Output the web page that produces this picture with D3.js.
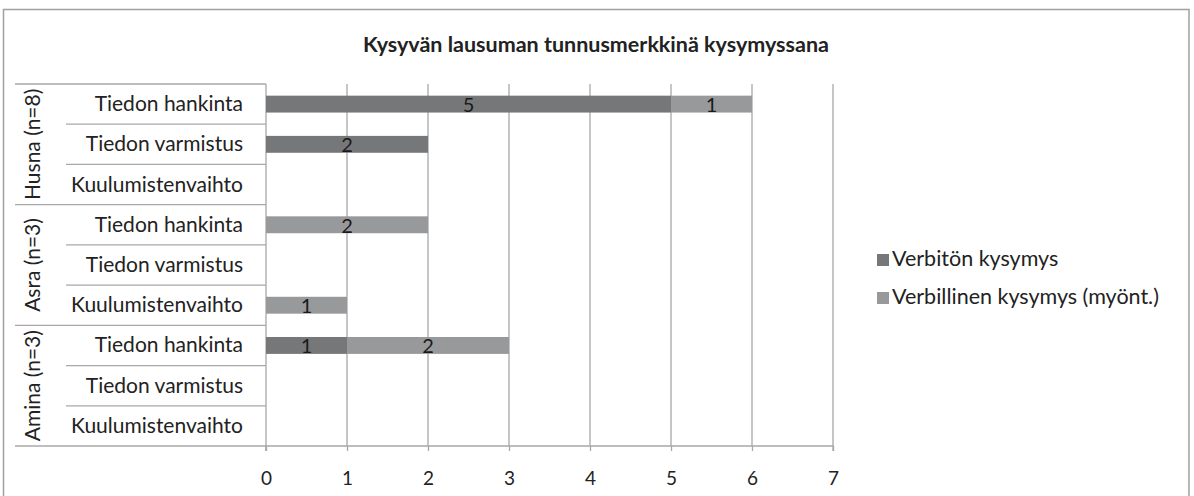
<!DOCTYPE html>
<html><head><meta charset="utf-8">
<script src="https://cdn.jsdelivr.net/npm/d3@7"></script>
<style>
body{margin:0;background:#fff;}
svg text{font-family:Lato,"Open Sans",sans-serif;fill:#222;}
</style></head>
<body><svg id="c" width="1194" height="496"></svg>
<script>
const title = "Kysyvän lausuman tunnusmerkkinä kysymyssana";
const groups = ["Husna (n=8)", "Asra (n=3)", "Amina (n=3)"];
const subcats = ["Tiedon hankinta", "Tiedon varmistus", "Kuulumistenvaihto"];
const seriesNames = ["Verbitön kysymys", "Verbillinen kysymys (myönt.)"];
const verbiton =   [5, 2, 0, 0, 0, 0, 1, 0, 0];
const verbillinen = [1, 0, 0, 2, 0, 1, 2, 0, 0];
const xTicks = [0, 1, 2, 3, 4, 5, 6, 7];
const colors = ["#767779", "#98999b"];

const svg = d3.select("#c");
const gridColor = "#a8a8a8";
const L = 266, R = 833, T = 84, B = 446;

svg.append("rect").attr("x", 3.5).attr("y", 9.5).attr("width", 1185.5).attr("height", 500)
  .attr("fill", "none").attr("stroke", "#a0a0a0").attr("stroke-width", 1.5);

svg.append("text").attr("x", 596).attr("y", 52).attr("text-anchor", "middle")
  .style("font-weight", "bold").style("font-size", "21.5px").text(title);

const rows = [];
groups.forEach((g, gi) => subcats.forEach((s, si) => rows.push({g, s, gi, si, key: gi + "|" + si})));
rows.forEach((r, i) => { r.v = [verbiton[i], verbillinen[i]]; });

const x = d3.scaleLinear().domain([0, 7]).range([L, R]);
const y = d3.scaleBand().domain(rows.map(r => r.key)).range([T, B]).paddingInner(0.58).paddingOuter(0.29);
const step = y.step();

// vertical grid
svg.append("g").selectAll("line").data(xTicks.slice(1)).join("line")
  .attr("x1", d => x(d)).attr("x2", d => x(d)).attr("y1", T).attr("y2", B)
  .attr("stroke", gridColor).attr("stroke-width", 1.3);

// x axis
const xa = svg.append("g").attr("transform", `translate(0,${B})`)
  .call(d3.axisBottom(x).tickValues(xTicks).tickSize(5).tickPadding(21).tickFormat(d3.format("d")));
xa.select(".domain").attr("stroke", gridColor).attr("stroke-width", 1.3).attr("d", `M${L},5V0H${R}V5`);
xa.selectAll(".tick line").attr("stroke", gridColor).attr("stroke-width", 1.3);
xa.selectAll(".tick text").style("font-size", "19px").style("fill", "#222").style("font-family", "Lato");

// y axis line
svg.append("line").attr("x1", L).attr("x2", L).attr("y1", T).attr("y2", B + 5)
  .attr("stroke", gridColor).attr("stroke-width", 1.3);

// category boundary lines
const bounds = d3.range(rows.length + 1).map(i => T + i * step);
svg.append("g").selectAll("line").data(bounds).join("line")
  .attr("x1", (d, i) => i % 3 === 0 ? 15 : 66).attr("x2", L)
  .attr("y1", d => d).attr("y2", d => d)
  .attr("stroke", gridColor).attr("stroke-width", 1.3);

// bars
const stacked = rows.map(r => {
  let acc = 0;
  return r.v.map((v, si) => { const o = {r, si, x0: acc, x1: acc + v, v}; acc += v; return o; });
}).flat().filter(d => d.v > 0);

svg.append("g").selectAll("rect").data(stacked).join("rect")
  .attr("x", d => x(d.x0)).attr("width", d => x(d.x1) - x(d.x0))
  .attr("y", d => y(d.r.key)).attr("height", y.bandwidth())
  .attr("fill", d => colors[d.si]);

svg.append("g").selectAll("text").data(stacked).join("text")
  .attr("x", d => x((d.x0 + d.x1) / 2)).attr("y", d => y(d.r.key) + y.bandwidth() / 2 + 8)
  .attr("text-anchor", "middle").style("font-size", "20px").style("fill", "#1a1a1a").text(d => d.v);

// sub category labels
svg.append("g").selectAll("text").data(rows).join("text")
  .attr("x", 243).attr("y", d => y(d.key) + y.bandwidth() / 2 + 7)
  .attr("text-anchor", "end").style("font-size", "21px").text(d => d.s);

// group labels
svg.append("g").selectAll("text").data(groups).join("text")
  .attr("transform", (d, i) => `translate(40,${T + (i * 3 + 1.5) * step}) rotate(-90)`)
  .attr("text-anchor", "middle").style("font-size", "21px").text(d => d);

// legend
const lg = svg.append("g").selectAll("g").data(seriesNames).join("g")
  .attr("transform", (d, i) => `translate(877,${254 + i * 38})`);
lg.append("rect").attr("width", 12).attr("height", 12).attr("fill", (d, i) => colors[i]);
lg.append("text").attr("x", 15).attr("y", 12).style("font-size", "21.5px").text(d => d);
</script></body></html>
